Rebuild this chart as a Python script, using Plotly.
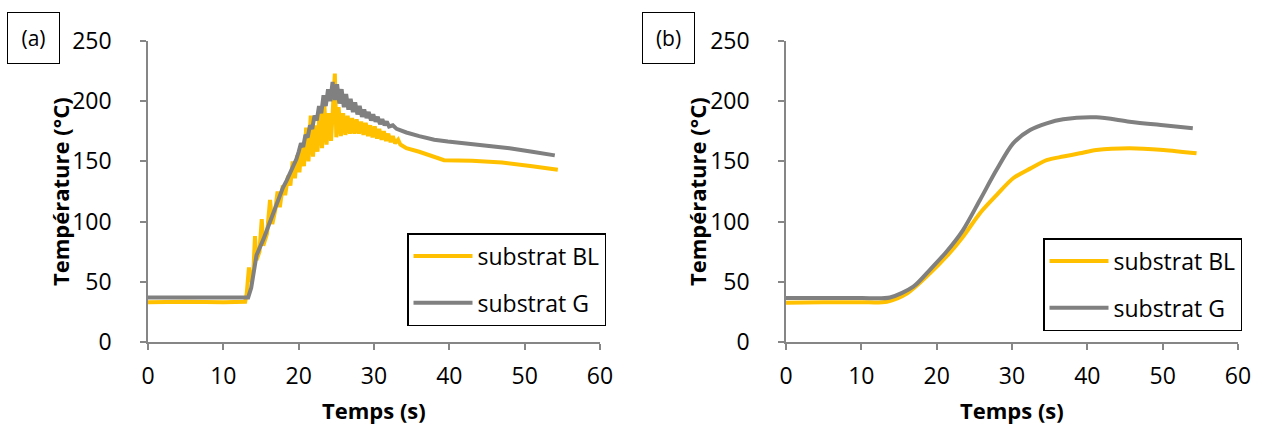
import plotly.graph_objects as go

# ---------------- data: panel (a) ----------------
t_a_bl = [0, 5, 10, 12.9, 13.1, 13.4, 13.6, 14.0, 14.2, 14.4, 14.8, 15.1, 15.3, 15.8, 16.2, 16.5,
          16.9, 17.2, 17.5, 17.9, 18.2, 18.6, 18.9, 19.2, 19.5, 19.8, 20.1, 20.4, 20.7, 21.0,
          21.3, 21.6, 21.9, 22.2, 22.5, 22.8, 23.1, 23.4, 23.7, 24.0, 24.3, 24.6, 24.8, 25.0,
          25.3, 25.6, 25.9, 26.2, 26.5, 26.8, 27.1, 27.4, 27.7, 28.0, 28.3, 28.6, 28.9, 29.2,
          29.5, 29.8, 30.1, 30.4, 30.7, 31.0, 31.3, 31.6, 31.9, 32.2, 32.5, 32.8, 33.2, 33.5,
          34.3, 36, 38, 39.3, 43, 47, 51, 54.4]
T_a_bl = [33, 33.5, 33, 33.5, 40, 62, 50, 60, 88, 68, 75, 102, 80, 90, 118, 98,
          110, 125, 112, 130, 122, 138, 130, 150, 136, 155, 141, 165, 146, 178,
          150, 188, 154, 180, 158, 195, 161, 198, 164, 190, 167, 205, 223, 170,
          195, 171, 190, 172, 188, 173, 186, 173, 185, 173, 183, 172, 182, 171,
          180, 170, 179, 169, 177, 168, 175, 167, 173, 166, 171, 165, 168, 164,
          161, 158, 154, 151, 150.5, 149, 146, 143]

t_a_g = [0, 5, 10, 13.3, 13.7, 14.4, 15.3, 16.0, 16.6, 17.2, 17.9, 18.4, 19.0, 19.7,
         20.0, 20.3, 20.6, 20.9, 21.2, 21.5, 21.8, 22.1, 22.4, 22.7, 23.0, 23.3, 23.6, 23.9,
         24.2, 24.5, 24.8, 25.1, 25.4, 25.7, 26.0, 26.3, 26.6, 26.9, 27.2, 27.5, 27.8, 28.1,
         28.4, 28.7, 29.0, 29.3, 29.6, 29.9, 30.2, 30.5, 30.8, 31.1, 31.4, 31.7, 32.0, 32.5,
         33, 34.3, 36, 38, 39.8, 44, 48, 51, 54.0]
T_a_g = [37, 37, 37, 37, 45, 72, 85, 97, 106, 116, 128, 134, 142, 152,
         158, 165, 162, 172, 170, 180, 177, 188, 184, 196, 190, 205, 196, 210,
         200, 216, 201, 214, 198, 210, 195, 206, 193, 202, 191, 199, 189, 196,
         187, 193, 186, 191, 184, 189, 183, 187, 181, 185, 180, 183, 179, 180,
         177, 174, 171, 168, 166.5, 164, 161, 158, 155]

# ---------------- data: panel (b) ----------------
t_b_bl = [0, 5, 10, 13.4, 16.1, 19.1, 21.3, 23.5, 25.75, 27.95, 30.15, 32.4, 34.6, 36.8,
          39.0, 41.2, 45.6, 50.1, 54.5]
T_b_bl = [32.5, 33, 33, 33.5, 40.5, 57, 71, 87.5, 107, 122, 136, 144, 151, 154,
          156.7, 159.5, 161, 159.5, 156.7]

t_b_g = [0, 5, 10, 13.8, 16.9, 19.1, 21.3, 23.5, 25.75, 27.95, 30.15, 32.4, 34.6, 36.8,
         41.2, 45.6, 50.1, 54.0]
T_b_g = [36.5, 36.5, 36.5, 37, 46, 60, 75, 93, 118, 143, 165, 176, 181.6, 185,
         186.6, 183, 180, 177.5]

x_ticks = [0, 10, 20, 30, 40, 50, 60]
y_ticks = [0, 50, 100, 150, 200, 250]

YELLOW = "#FFC000"
GRAY = "#808080"
FONT = "Open Sans"
W, H = 1261, 430

fig = go.Figure()
fig.add_trace(go.Scatter(x=t_a_bl, y=T_a_bl, mode="lines", name="substrat BL",
                         line=dict(color=YELLOW, width=4), xaxis="x", yaxis="y",
                         legend="legend", legendgroup="a1"))
fig.add_trace(go.Scatter(x=t_a_g, y=T_a_g, mode="lines", name="substrat G",
                         line=dict(color=GRAY, width=4), xaxis="x", yaxis="y",
                         legend="legend", legendgroup="a2"))
fig.add_trace(go.Scatter(x=t_b_bl, y=T_b_bl, mode="lines", name="substrat BL",
                         line=dict(color=YELLOW, width=4, shape="spline", smoothing=0.8),
                         xaxis="x2", yaxis="y2", legend="legend2", legendgroup="b1"))
fig.add_trace(go.Scatter(x=t_b_g, y=T_b_g, mode="lines", name="substrat G",
                         line=dict(color=GRAY, width=4, shape="spline", smoothing=0.8),
                         xaxis="x2", yaxis="y2", legend="legend2", legendgroup="b2"))

axcol = "#868686"
common_x = dict(range=[0, 60], tickvals=x_ticks, showgrid=False, zeroline=False,
                showline=True, linecolor=axcol, linewidth=1.5, ticks="outside",
                ticklen=6, tickcolor=axcol, tickwidth=1.5, automargin=False,
                tickfont=dict(family=FONT, size=23, color="black"), ticklabelstandoff=7)
common_y = dict(range=[0, 250], tickvals=y_ticks, showgrid=False, zeroline=False,
                showline=True, linecolor=axcol, linewidth=1.5, ticks="outside",
                ticklen=6, tickcolor=axcol, tickwidth=1.5, automargin=False,
                tickfont=dict(family=FONT, size=23, color="black"), ticklabelstandoff=24)

ydom = [88 / H, 389 / H]
legend_common = dict(xanchor="left", yanchor="top", bordercolor="black", borderwidth=1.5,
                     bgcolor="white", font=dict(family=FONT, size=23, color="black"),
                     tracegroupgap=14, itemwidth=59)
fig.update_layout(
    width=W, height=H, margin=dict(l=0, r=0, t=0, b=0, autoexpand=False),
    paper_bgcolor="white", plot_bgcolor="white",
    xaxis=dict(domain=[148 / W, 600 / W], anchor="y", **common_x),
    yaxis=dict(domain=ydom, anchor="x", **common_y),
    xaxis2=dict(domain=[786 / W, 1238 / W], anchor="y2", **common_x),
    yaxis2=dict(domain=ydom, anchor="x2", **common_y),
    legend=dict(x=407 / W, y=1 - 233 / H, **legend_common),
    legend2=dict(x=1043 / W, y=1 - 238 / H, **legend_common),
    showlegend=True,
)

annots = []
for cx, lab in [(33.5, "(a)"), (668.5, "(b)")]:
    annots.append(dict(x=cx / W, y=1 - 38 / H, xref="paper", yref="paper", text=lab,
                       showarrow=False, font=dict(family=FONT, size=21, color="black"),
                       bordercolor="black", borderwidth=1, width=49, height=48,
                       xanchor="center", yanchor="middle", bgcolor="white"))
for cx in [60, 697]:
    annots.append(dict(x=cx / W, y=1 - 192 / H, xref="paper", yref="paper",
                       text="<b>Température (°C)</b>", textangle=-90, showarrow=False,
                       font=dict(family=FONT, size=22, color="black"),
                       xanchor="center", yanchor="middle"))
for cx in [374, 1012]:
    annots.append(dict(x=cx / W, y=1 - 410 / H, xref="paper", yref="paper",
                       text="<b>Temps (s)</b>", showarrow=False,
                       font=dict(family=FONT, size=22, color="black"),
                       xanchor="center", yanchor="middle"))
fig.update_layout(annotations=annots)

fig.write_html("out.html", config={"displayModeBar": False},
               post_script="document.body.style.margin='0px';"
                           "document.body.style.overflow='hidden';")
